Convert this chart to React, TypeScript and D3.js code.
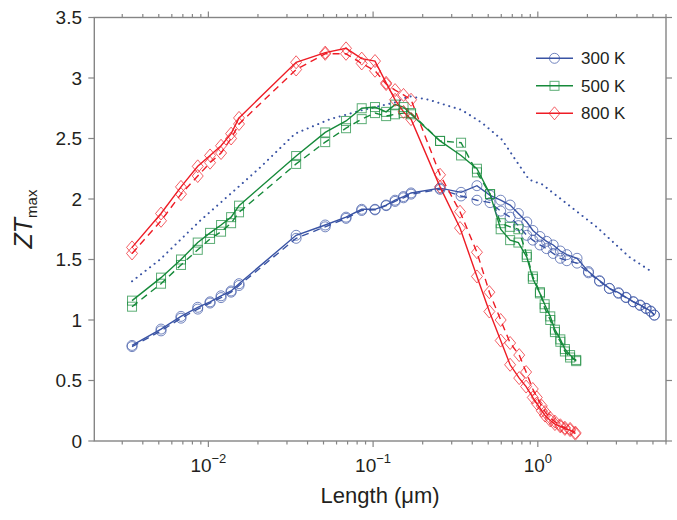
import React from "react";
import * as d3 from "d3";

// ---------- data (Length in µm, ZTmax) ----------
const xLeft = [0.00344, 0.00516, 0.00682, 0.00862, 0.01024, 0.01194, 0.01374, 0.01535, 0.0341, 0.0512, 0.0685, 0.0853, 0.1027, 0.12, 0.136, 0.153, 0.17];

const x300 = [...xLeft, 0.255, 0.342, 0.427, 0.513, 0.595, 0.679, 0.762, 0.857, 0.933, 1.03, 1.13, 1.24, 1.37, 1.5, 1.73, 2.03, 2.37, 2.72, 3.09, 3.43, 3.8, 4.18, 4.54, 4.85, 5.1];
const zt300Solid = [0.79, 0.925, 1.03, 1.105, 1.15, 1.2, 1.24, 1.3, 1.7, 1.785, 1.85, 1.915, 1.915, 1.95, 1.99, 2.02, 2.05,
  2.09, 2.055, 2.11, 2.03, 1.99, 1.95, 1.88, 1.81, 1.74, 1.69, 1.65, 1.62, 1.57, 1.54, 1.51, 1.4, 1.325, 1.262, 1.226, 1.188, 1.151, 1.124, 1.097, 1.074, 1.041];
const zt300Dashed = [0.78, 0.91, 1.015, 1.09, 1.14, 1.185, 1.23, 1.285, 1.675, 1.77, 1.84, 1.905, 1.91, 1.945, 1.98, 2.01, 2.04,
  2.08, 2.025, 1.99, 1.97, 1.9, 1.85, 1.78, 1.7, 1.66, 1.62, 1.59, 1.55, 1.51, 1.49, 1.47, 1.39, 1.32, 1.26, 1.22, 1.185, 1.15, 1.12, 1.095, 1.07, 1.04];

const x500 = [...xLeft, 0.255, 0.342, 0.427, 0.513, 0.595, 0.679, 0.762, 0.857, 0.933, 1.03, 1.1, 1.19, 1.27, 1.37, 1.46, 1.57, 1.71];
const zt500Solid = [1.16, 1.35, 1.5, 1.64, 1.72, 1.785, 1.85, 1.945, 2.355, 2.55, 2.645, 2.75, 2.76, 2.72, 2.78, 2.76, 2.7,
  2.48, 2.36, 2.25, 2.04, 1.75, 1.66, 1.64, 1.52, 1.34, 1.22, 1.13, 1.03, 0.92, 0.84, 0.76, 0.71, 0.66];
const zt500Dashed = [1.11, 1.3, 1.455, 1.58, 1.67, 1.73, 1.8, 1.89, 2.29, 2.47, 2.585, 2.66, 2.71, 2.685, 2.7, 2.71, 2.71,
  2.48, 2.465, 2.22, 2.04, 1.8, 1.77, 1.75, 1.54, 1.36, 1.23, 1.1, 1.0, 0.9, 0.82, 0.74, 0.69, 0.67];

const x800 = [...xLeft, 0.255, 0.337, 0.427, 0.508, 0.595, 0.679, 0.771, 0.849, 0.932, 0.986, 1.057, 1.107, 1.19, 1.27, 1.37, 1.46, 1.57, 1.69];
const zt800Solid = [1.6, 1.88, 2.1, 2.27, 2.36, 2.44, 2.54, 2.67, 3.13, 3.21, 3.245, 3.16, 3.14, 2.96, 2.82, 2.72, 2.66,
  2.1, 1.76, 1.36, 1.07, 0.83, 0.63, 0.52, 0.45, 0.36, 0.31, 0.25, 0.21, 0.17, 0.14, 0.12, 0.1, 0.09, 0.06];
const zt800Dashed = [1.55, 1.82, 2.04, 2.19, 2.3, 2.38, 2.5, 2.62, 3.07, 3.2, 3.2, 3.12, 3.06, 2.95, 2.9, 2.86, 2.82,
  2.2, 1.895, 1.56, 1.23, 1.0, 0.81, 0.71, 0.57, 0.43, 0.36, 0.29, 0.24, 0.19, 0.16, 0.13, 0.11, 0.1, 0.07];

const xDotted = [0.00344, 0.00509, 0.0089, 0.0141, 0.0206, 0.0336, 0.0548, 0.0863, 0.138, 0.165, 0.218, 0.346, 0.458, 0.606, 0.735, 0.885, 1.065, 1.41, 2.27, 3.6, 4.9];
const ztDotted = [1.32, 1.5, 1.82, 2.06, 2.26, 2.54, 2.66, 2.735, 2.8, 2.85, 2.82, 2.735, 2.63, 2.49, 2.32, 2.16, 2.12, 1.99, 1.77, 1.52, 1.4];

const yTicks = [0, 0.5, 1, 1.5, 2, 2.5, 3, 3.5];
const yTickLabels = ["0", "0.5", "1", "1.5", "2", "2.5", "3", "3.5"];
const xMajor = [0.01, 0.1, 1];
const xMajorExp = ["\u22122", "\u22121", "0"];
const legendLabels = ["300 K", "500 K", "800 K"];

const BLUE = "#3953a4";
const GREEN = "#168a3a";
const RED = "#ee1c25";
const AXIS = "#858585";
const TEXT = "#231f20";
const FONT = "Arial, 'Liberation Sans', Helvetica, sans-serif";

type Shape = "circle" | "square" | "diamond";

function Marker({ cx, cy, shape, color }: { cx: number; cy: number; shape: Shape; color: string }) {
  const common = { fill: "none", stroke: color, strokeWidth: 1, strokeOpacity: 0.7 };
  if (shape === "circle") return <circle cx={cx} cy={cy} r={5} {...common} />;
  if (shape === "square") return <rect x={cx - 4.5} y={cy - 4.5} width={9} height={9} {...common} />;
  return <path d={`M${cx},${cy - 6.5}L${cx + 5.5},${cy}L${cx},${cy + 6.5}L${cx - 5.5},${cy}Z`} {...common} />;
}

export default function App() {
  const x = d3.scaleLog().domain([0.00203, 6.0]).range([94.3, 666]);
  const y = d3.scaleLinear().domain([0, 3.5]).range([441, 17.5]);
  const [x0, x1] = x.range();
  const [y0, y1] = y.range();

  const line = d3.line<[number, number]>().x((d) => x(d[0])).y((d) => y(d[1]));
  const zip = (xs: number[], ys: number[]) => xs.map((v, i) => [v, ys[i]] as [number, number]);

  const series = [
    { xs: x300, solid: zt300Solid, dashed: zt300Dashed, color: BLUE, shape: "circle" as Shape },
    { xs: x500, solid: zt500Solid, dashed: zt500Dashed, color: GREEN, shape: "square" as Shape },
    { xs: x800, solid: zt800Solid, dashed: zt800Dashed, color: RED, shape: "diamond" as Shape },
  ];

  const allXTicks = x.ticks().filter((t) => t >= 0.00203 && t <= 6.0);
  const isMajor = (t: number) => Math.abs(Math.log10(t) - Math.round(Math.log10(t))) < 1e-6;

  return (
    <svg width={677} height={520} style={{ position: "absolute", left: 0, top: 0, background: "#fff" }} fontFamily={FONT}>
      <rect width={677} height={520} fill="#fff" />
      {/* dotted reference */}
      <path d={line(zip(xDotted, ztDotted)) || ""} fill="none" stroke={BLUE} strokeWidth={2} strokeDasharray="0.1 5.6" strokeLinecap="round" />
      {/* lines */}
      {series.map((s, i) => (
        <g key={"l" + i}>
          <path d={line(zip(s.xs, s.dashed)) || ""} fill="none" stroke={s.color} strokeWidth={1.4} strokeDasharray="7 5" />
          <path d={line(zip(s.xs, s.solid)) || ""} fill="none" stroke={s.color} strokeWidth={1.4} />
        </g>
      ))}
      {/* markers */}
      {series.map((s, i) => (
        <g key={"m" + i}>
          {s.xs.map((v, j) => (
            <Marker key={"d" + j} cx={x(v)} cy={y(s.dashed[j])} shape={s.shape} color={s.color} />
          ))}
          {s.xs.map((v, j) => (
            <Marker key={"s" + j} cx={x(v)} cy={y(s.solid[j])} shape={s.shape} color={s.color} />
          ))}
        </g>
      ))}

      {/* axes box */}
      <rect x={x0} y={y1} width={x1 - x0} height={y0 - y1} fill="none" stroke={AXIS} strokeWidth={1.4} />
      {/* x ticks bottom & top */}
      {allXTicks.map((t, i) => {
        const len = isMajor(t) ? 6 : 3.5;
        const px = x(t);
        return (
          <g key={"xt" + i} stroke={AXIS} strokeWidth={1.2}>
            <line x1={px} x2={px} y1={y0} y2={y0 + len} />
            <line x1={px} x2={px} y1={y1} y2={y1 - len} />
          </g>
        );
      })}
      {/* y ticks left & right */}
      {yTicks.map((t, i) => (
        <g key={"yt" + i} stroke={AXIS} strokeWidth={1.2}>
          <line x1={x0} x2={x0 - 6} y1={y(t)} y2={y(t)} />
          <line x1={x1} x2={x1 + 6} y1={y(t)} y2={y(t)} />
        </g>
      ))}
      {/* y tick labels */}
      {yTicks.map((t, i) => (
        <text key={"yl" + i} x={82} y={y(t)} dy="0.36em" textAnchor="end" fontSize={19} fill={TEXT}>
          {yTickLabels[i]}
        </text>
      ))}
      {/* x tick labels */}
      {xMajor.map((t, i) => (
        <text key={"xl" + i} x={x(t)} y={471.5} textAnchor="middle" fontSize={19} fill={TEXT}>
          <tspan>10</tspan>
          <tspan dy={-9} fontSize={13}>{xMajorExp[i]}</tspan>
        </text>
      ))}
      {/* axis titles */}
      <text x={(x0 + x1) / 2} y={503} textAnchor="middle" fontSize={22} fill={TEXT}>
        Length (μm)
      </text>
      <text transform="translate(32,219) rotate(-90)" textAnchor="middle" fontSize={25} fill={TEXT}>
        <tspan fontStyle="italic">ZT</tspan>
        <tspan fontSize={15} dy={5}>max</tspan>
      </text>

      {/* legend */}
      {series.map((s, i) => {
        const ly = 58.3 + i * 27.5;
        return (
          <g key={"lg" + i}>
            <line x1={536} x2={573} y1={ly} y2={ly} stroke={s.color} strokeWidth={1.4} />
            <Marker cx={554.5} cy={ly} shape={s.shape} color={s.color} />
            <text x={581} y={ly} dy="0.36em" fontSize={17} fill={TEXT}>
              {legendLabels[i]}
            </text>
          </g>
        );
      })}
    </svg>
  );
}
